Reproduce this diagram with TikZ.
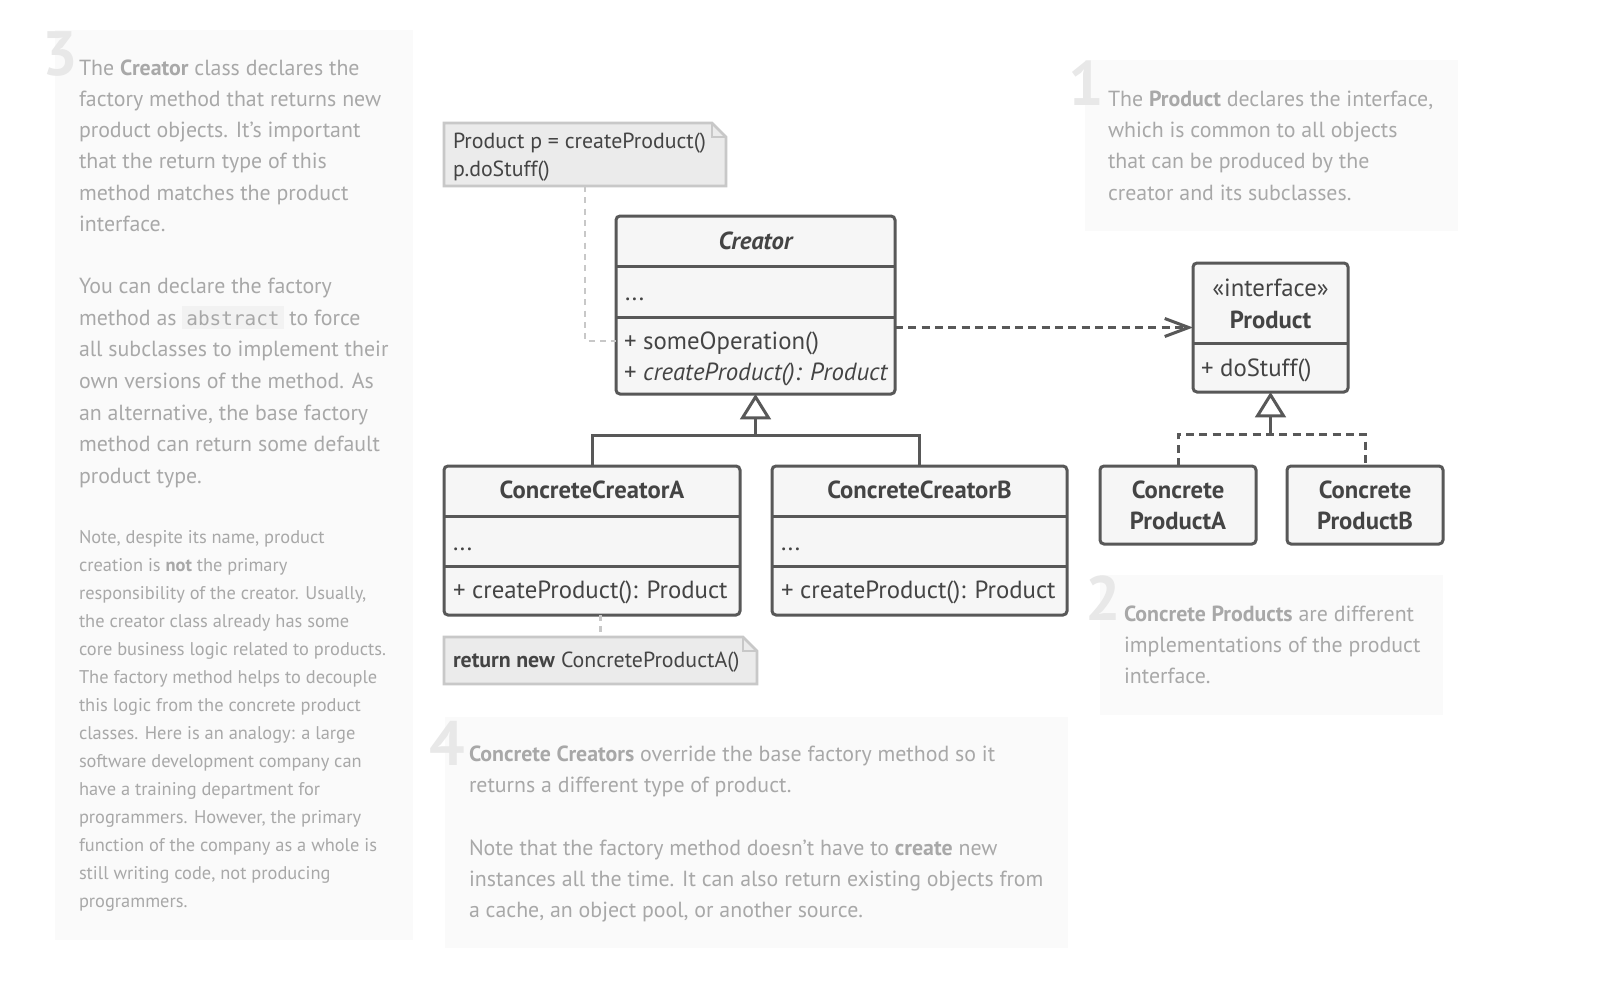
\documentclass[tikz,border=0pt]{standalone}
\usepackage{fontspec}
\setmainfont{PT Sans}
\newfontfamily\chipfont{DejaVu Sans Mono}
\usetikzlibrary{arrows.meta,calc}
\definecolor{panelbg}{HTML}{FAFAFA}
\definecolor{numgray}{HTML}{E8E8E8}
\definecolor{bodygray}{HTML}{A8A8A8}
\definecolor{boxline}{HTML}{585858}
\definecolor{boxfill}{HTML}{F6F6F6}
\definecolor{boxtext}{HTML}{444444}
\definecolor{notefill}{HTML}{EBEBEB}
\definecolor{noteline}{HTML}{C8C8C8}
\definecolor{chipbg}{HTML}{F2F2F2}
\begin{document}
\begin{tikzpicture}[x=0.75pt,y=-0.75pt,
  every node/.style={inner sep=0pt, outer sep=0pt},
  panel/.style={fill=panelbg, draw=none},
  bignum/.style={font=\fontsize{47}{47}\selectfont\bfseries, text=numgray, anchor=base west},
  body/.style={font=\fontsize{16.4}{20}\selectfont, text=bodygray, anchor=mid west, yshift=-3pt},
  smallbody/.style={font=\fontsize{13.8}{17}\selectfont, text=bodygray, anchor=mid west, yshift=-2.5pt},
  classbox/.style={draw=boxline, fill=boxfill, line width=2.25pt, rounded corners=3pt},
  divider/.style={draw=boxline, line width=2.25pt},
  boxtxt/.style={font=\fontsize{18.6}{22}\selectfont, text=boxtext},
  shifted/.style={yshift=-3.5pt},
  boxhead/.style={font=\fontsize{18.5}{22}\selectfont\bfseries, text=boxtext, yshift=-3.5pt},
  notetxt/.style={font=\fontsize{16.4}{20}\selectfont, text=boxtext, anchor=mid west, yshift=-3pt},
  notebox/.style={draw=none},
  noteshape/.style={draw=noteline, fill=notefill, line width=1.9pt},
  notelink/.style={draw=noteline, line width=1.9pt, dash pattern=on 4.5pt off 4pt},
  inh/.style={draw=boxline, line width=2.25pt},
  impl/.style={draw=boxline, line width=2.25pt, dash pattern=on 6pt off 4pt},
  hollowtip/.style={-{Triangle[open, length=19pt, width=23pt]}},
]
\useasboundingbox (0,0) rectangle (1608,1006);
\fill[white] (0,0) rectangle (1608,1006);

% ---------- panels ----------
\fill[panel] (55,30) rectangle (413,940);
\fill[panel] (1085,60) rectangle (1458,231);
\fill[panel] (1100,575) rectangle (1443,715);
\fill[panel] (445,717) rectangle (1068,948);

\node[bignum] (n3) at (42,75) {3};
\node[bignum] (n1) at (1068,105) {1};
\node[bignum] (n2) at (1085,620) {2};
\node[bignum] (n4) at (429,765) {4};

% panel 3
\foreach \t [count=\i] in {{The \textbf{Creator} class declares the},{factory method that returns new},{product objects. It’s important},{that the return type of this},{method matches the product},{interface.}}
  \node[body] (pa\i) at (79,{68+31.2*(\i-1)}) {\t};
\foreach \t [count=\i] in {{You can declare the factory},{method as {\setlength{\fboxsep}{3pt}\colorbox{chipbg}{\chipfont\fontsize{14.5}{16}\selectfont abstract}} to force},{all subclasses to implement their},{own versions of the method. As},{an alternative, the base factory},{method can return some default},{product type.}}
  \node[body] (pb\i) at (79,{286+31.7*(\i-1)}) {\t};
\foreach \t [count=\i] in {{Note, despite its name, product},{creation is \textbf{not} the primary},{responsibility of the creator. Usually,},{the creator class already has some},{core business logic related to products.},{The factory method helps to decouple},{this logic from the concrete product},{classes. Here is an analogy: a large},{software development company can},{have a training department for},{programmers. However, the primary},{function of the company as a whole is},{still writing code, not producing},{programmers.}}
  \node[smallbody] (pc\i) at (79,{537+28*(\i-1)}) {\t};

% panel 1
\foreach \t [count=\i] in {{The \textbf{Product} declares the interface,},{which is common to all objects},{that can be produced by the},{creator and its subclasses.}}
  \node[body] (pd\i) at (1108,{99+31.3*(\i-1)}) {\t};

% panel 2
\foreach \t [count=\i] in {{\textbf{Concrete Products} are different},{implementations of the product},{interface.}}
  \node[body] (pe\i) at (1124,{614+31*(\i-1)}) {\t};

% panel 4
\node[body] (pf1) at (469,754) {\textbf{Concrete Creators} override the base factory method so it};
\node[body] (pf2) at (469,785) {returns a different type of product.};
\node[body] (pf3) at (469,848) {Note that the factory method doesn’t have to \textbf{create} new};
\node[body] (pf4) at (469,879) {instances all the time. It can also return existing objects from};
\node[body] (pf5) at (469,910) {a cache, an object pool, or another source.};

% ---------- notes ----------
\node[notebox, minimum width=282*0.75pt, minimum height=63*0.75pt] (note1) at (585,154.5) {};
\draw[noteshape] (note1.south west) -- (note1.north west) -- ($(note1.north east)+(-14,0)$) -- ($(note1.north east)+(0,14)$) -- (note1.south east) -- cycle;
\draw[draw=noteline, line width=1.5pt] ($(note1.north east)+(-14,0)$) -- ($(note1.north east)+(-14,14)$) -- ($(note1.north east)+(0,14)$);
\node[notetxt] (note1a) at (453,141) {Product p = createProduct()};
\node[notetxt] (note1b) at (453,169) {p.doStuff()};

\node[notebox, minimum width=313*0.75pt, minimum height=47*0.75pt] (note2) at (600.5,660.5) {};
\draw[noteshape] (note2.south west) -- (note2.north west) -- ($(note2.north east)+(-14,0)$) -- ($(note2.north east)+(0,14)$) -- (note2.south east) -- cycle;
\draw[draw=noteline, line width=1.5pt] ($(note2.north east)+(-14,0)$) -- ($(note2.north east)+(-14,14)$) -- ($(note2.north east)+(0,14)$);
\node[notetxt] (note2a) at (453,660) {\textbf{return new} ConcreteProductA()};

% ---------- classes ----------
\node[classbox, minimum width=279*0.75pt, minimum height=178*0.75pt] (creator) at (755.5,305) {};
\draw[divider] (616,266) -- (895,266);
\draw[divider] (616,317) -- (895,317);
\node[boxhead, anchor=mid] (creatorT) at (755.5,241) {\itshape Creator};
\node[boxtxt, anchor=base west] (creatorA) at (625,300) {...};
\node[boxtxt, shifted, anchor=mid west] (creatorM1) at (624,341) {+ someOperation()};
\node[boxtxt, shifted, anchor=mid west] (creatorM2) at (624,372) {+ \itshape createProduct(): Product};

\node[classbox, minimum width=296*0.75pt, minimum height=149*0.75pt] (cca) at (592,540.5) {};
\draw[divider] (444,516) -- (740,516);
\draw[divider] (444,566) -- (740,566);
\node[boxhead, anchor=mid] (ccaT) at (592,490) {ConcreteCreatorA};
\node[boxtxt, anchor=base west] (ccaA) at (453,550) {...};
\node[boxtxt, shifted, anchor=mid west] (ccaM) at (453,590) {+ createProduct(): Product};

\node[classbox, minimum width=295*0.75pt, minimum height=149*0.75pt] (ccb) at (919.5,540.5) {};
\draw[divider] (772,516) -- (1067,516);
\draw[divider] (772,566) -- (1067,566);
\node[boxhead, anchor=mid] (ccbT) at (919.5,490) {ConcreteCreatorB};
\node[boxtxt, anchor=base west] (ccbA) at (781,550) {...};
\node[boxtxt, shifted, anchor=mid west] (ccbM) at (781,590) {+ createProduct(): Product};

\node[classbox, minimum width=155*0.75pt, minimum height=129*0.75pt] (product) at (1270.5,327.5) {};
\draw[divider] (1193,343) -- (1348,343);
\node[boxtxt, shifted, anchor=mid] (productS) at (1270.5,288) {«interface»};
\node[boxhead, anchor=mid] (productT) at (1270.5,320) {Product};
\node[boxtxt, shifted, anchor=mid west] (productM) at (1201,368) {+ doStuff()};

\node[classbox, minimum width=156*0.75pt, minimum height=78*0.75pt] (cpa) at (1178,505) {};
\node[boxhead, anchor=mid] (cpaT1) at (1178,490) {Concrete};
\node[boxhead, anchor=mid] (cpaT2) at (1178,521) {ProductA};

\node[classbox, minimum width=156*0.75pt, minimum height=78*0.75pt] (cpb) at (1365,505) {};
\node[boxhead, anchor=mid] (cpbT1) at (1365,490) {Concrete};
\node[boxhead, anchor=mid] (cpbT2) at (1365,521) {ProductB};

% ---------- connectors ----------
\coordinate (cop) at (616,341);
\draw[notelink] (note1.south) |- (cop);
\draw[notelink] (cca.south -| note2.north) -- (note2.north);

\coordinate (hub1) at (755.5,435);
\draw[inh] (cca.north) |- (hub1) -| (ccb.north);
\draw[inh, hollowtip] (hub1) -- (creator.south);

\coordinate (hub2) at (1270.5,434);
\draw[impl] (cpa.north) |- (hub2) -| (cpb.north);
\draw[inh, hollowtip] (hub2) -- (product.south);

\draw[impl, -{Straight Barb[length=18pt, width=13.5pt]}] (creator.east |- product.west) -- (product.west);
\end{tikzpicture}
\end{document}
